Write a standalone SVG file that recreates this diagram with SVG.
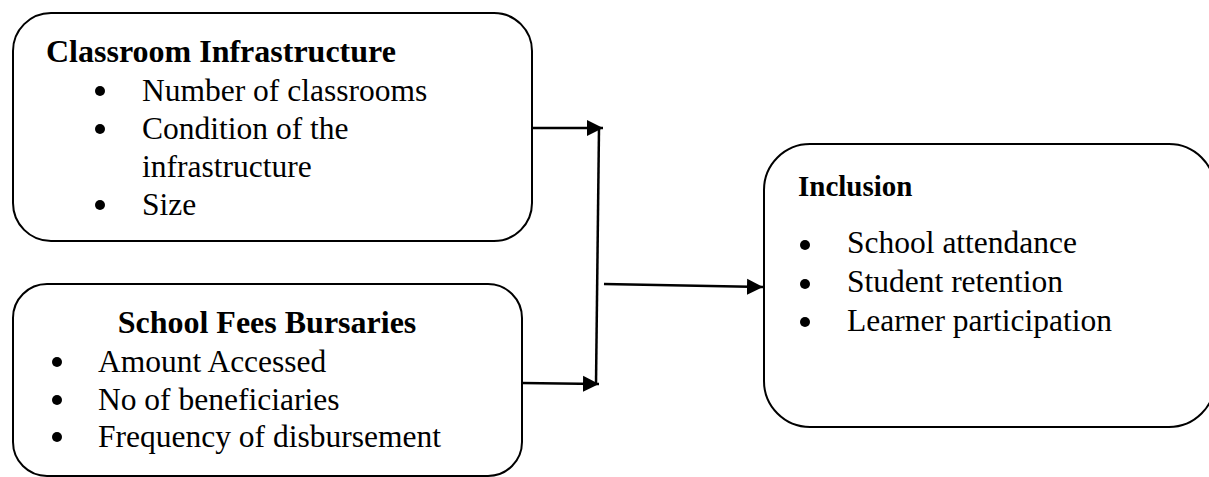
<svg xmlns="http://www.w3.org/2000/svg" width="1209" height="477" viewBox="0 0 1209 477">
<style>
.box{fill:#fff;stroke:#000;stroke-width:2}
.t{font-family:"Liberation Serif","Times New Roman",serif;fill:#000}
.h{font-size:32px;font-weight:bold}
.b{font-size:31.5px}
.dot{fill:#000}
.ln{stroke:#000;stroke-width:2.5;fill:none}
</style>
<defs>
<marker id="ah" markerUnits="userSpaceOnUse" markerWidth="17" markerHeight="17" viewBox="0 0 17 17" refX="16" refY="8.5" orient="auto">
<path d="M0,0.5 L16,8.5 L0,16.5 Z" fill="#000"/>
</marker>
</defs>
<g id="connectors">
<line class="ln" x1="532" y1="128" x2="603" y2="128" marker-end="url(#ah)"/>
<line class="ln" x1="599" y1="128" x2="596" y2="384"/>
<line class="ln" x1="522" y1="383" x2="599" y2="384" marker-end="url(#ah)"/>
<line class="ln" x1="604" y1="284" x2="763" y2="287" marker-end="url(#ah)"/>
</g>
<g id="classroom-infrastructure">
<rect class="box" x="13" y="13" width="519" height="228" rx="38" ry="38"/>
<text class="t h" x="46" y="62">Classroom Infrastructure</text>
<circle class="dot" cx="100" cy="91" r="5"/>
<text class="t b" x="142" y="101">Number of classrooms</text>
<circle class="dot" cx="100" cy="129" r="5"/>
<text class="t b" x="142" y="139">Condition of the</text>
<text class="t b" x="142" y="177">infrastructure</text>
<circle class="dot" cx="100" cy="205" r="5"/>
<text class="t b" x="142" y="215">Size</text>
</g>
<g id="school-fees-bursaries">
<rect class="box" x="13" y="284" width="509" height="192" rx="34" ry="34"/>
<text class="t h" x="267" y="333" text-anchor="middle">School Fees Bursaries</text>
<circle class="dot" cx="57" cy="362" r="5"/>
<text class="t b" x="98" y="372">Amount Accessed</text>
<circle class="dot" cx="57" cy="400" r="5"/>
<text class="t b" x="98" y="410">No of beneficiaries</text>
<circle class="dot" cx="57" cy="437" r="5"/>
<text class="t b" x="98" y="447">Frequency of disbursement</text>
</g>
<g id="inclusion">
<rect class="box" x="764" y="144" width="451" height="283" rx="46" ry="46"/>
<text class="t" x="798" y="196" font-size="29" font-weight="bold">Inclusion</text>
<circle class="dot" cx="805" cy="245" r="5"/>
<text class="t b" x="847" y="253">School attendance</text>
<circle class="dot" cx="805" cy="284" r="5"/>
<text class="t b" x="847" y="292">Student retention</text>
<circle class="dot" cx="805" cy="322" r="5"/>
<text class="t b" x="847" y="331">Learner participation</text>
</g>
</svg>
